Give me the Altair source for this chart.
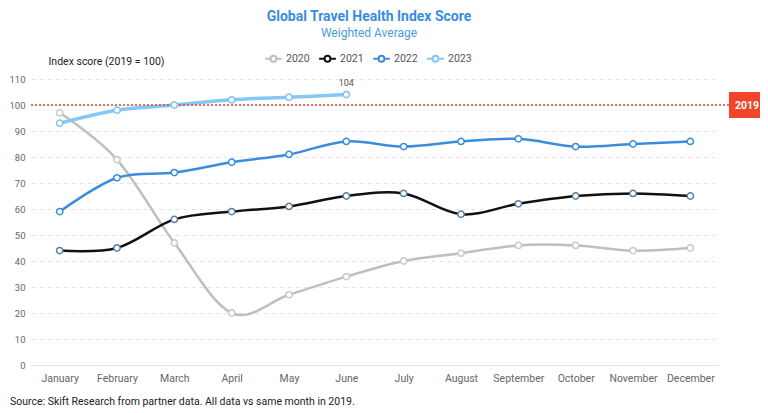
import altair as alt
import pandas as pd

months = ["January", "February", "March", "April", "May", "June", "July",
          "August", "September", "October", "November", "December"]
years = ["2020", "2021", "2022", "2023"]
v2020 = [97, 79, 47, 20, 27, 34, 40, 43, 46, 46, 44, 45]
v2021 = [44, 45, 56, 59, 61, 65, 66, 58, 62, 65, 66, 65]
v2022 = [59, 72, 74, 78, 81, 86, 84, 86, 87, 84, 85, 86]
v2023 = [93, 98, 100, 102, 103, 104]
colors = ["#bfbfbf", "#111111", "#3a8ddc", "#84c8f5"]
baseline_value = 100
baseline_label = "2019"
peak_label = "104"
y_ticks = [0, 10, 20, 30, 40, 50, 60, 70, 80, 90, 100, 110]

rows = []
for yr, vals in zip(years, [v2020, v2021, v2022, v2023]):
    for m, v in zip(months, vals):
        rows.append({"month": m, "year": yr, "value": v})
df = pd.DataFrame(rows)
df["lw"] = df["year"].map({"2020": 2.5, "2021": 2.5, "2022": 2.5, "2023": 3.5})

W, H = 688, 286

yscale = alt.Scale(domain=[0, 110], nice=False)

x = alt.X("month:N", sort=months, scale=alt.Scale(type="point", padding=0.5),
          axis=alt.Axis(title=None, labelAngle=0, ticks=False, domainColor="#e3e3e3",
                        labelColor="#666666", labelFontSize=10.5, labelPadding=8,
                        labelFont="Roboto", grid=False))
y = alt.Y("value:Q", scale=yscale,
          axis=alt.Axis(values=y_ticks, title="Index score (2019 = 100)",
                        titleAngle=0, titleAlign="left", titleBaseline="middle",
                        titleX=17, titleY=-18, titleFontSize=10.5, titleFontWeight="normal",
                        titleColor="#222222", titleFont="Roboto",
                        labelColor="#666666", labelFontSize=9.5, labelFont="Roboto",
                        labelPadding=6, ticks=False, domain=False, labelOverlap=False,
                        gridDash=[4, 4], gridColor="#e4e4e4"))

color = alt.Color("year:N", scale=alt.Scale(domain=years, range=colors),
                  legend=alt.Legend(title=None, orient="none", direction="horizontal",
                                    legendX=233, legendY=-30,
                                    symbolType="M-1,0L-0.35,0M0.35,0L1,0M-0.35,0A0.35,0.35 0 1,1 0.35,0A0.35,0.35 0 1,1 -0.35,0",
                                    symbolSize=280, symbolStrokeWidth=2,
                                    symbolFillColor="white",
                                    labelFontSize=10.5, labelColor="#555555",
                                    labelFont="Roboto", columnPadding=5, labelOffset=3))

base = alt.Chart(df)

lines = base.mark_line(interpolate="cardinal").encode(
    x=x, y=y, color=color,
    strokeWidth=alt.StrokeWidth("lw:Q", scale=None, legend=None),
    order=alt.Order("year:N", sort="ascending"),
)

pts = base.mark_point(filled=False, fill="white", size=40, strokeWidth=1.5, opacity=1).encode(
    x=x, y=y,
    stroke=alt.Stroke("year:N", scale=alt.Scale(domain=years,
                      range=["#c8c8c8", "#5d7f9f", "#3a8ddc", "#7fc2f0"]), legend=None),
)

rule_df = pd.DataFrame({"value": [baseline_value], "label": [baseline_label]})
rule = alt.Chart(rule_df).mark_rule(color="#e8402a", strokeDash=[2, 2], strokeWidth=1.5).encode(
    y=y, x=alt.value(0), x2=alt.value(698))
box = alt.Chart(rule_df).mark_rect(color="#f0442b").encode(
    y=alt.value(13), y2=alt.value(39), x=alt.value(698), x2=alt.value(745))
box_text = alt.Chart(rule_df).mark_text(color="white", fontWeight="bold", fontSize=10.5,
                                        font="Roboto", align="center", baseline="middle").encode(
    text="label:N", x=alt.value(716), y=alt.value(26.5))

peak_df = pd.DataFrame({"month": ["June"], "value": [104], "label": [peak_label]})
peak = alt.Chart(peak_df).mark_text(dy=-12, fontSize=9, color="#555555", font="Roboto").encode(
    x=x, y=y, text="label:N")

src_df = pd.DataFrame({"t": ["Source: Skift Research from partner data. All data vs same month in 2019."]})
src = alt.Chart(src_df).mark_text(align="left", baseline="middle", fontSize=10.5,
                                  color="#222222", font="Roboto").encode(
    text="t:N", x=alt.value(-21), y=alt.value(323))

chart = alt.layer(lines, rule, pts, box, box_text, peak, src).properties(
    width=W, height=H,
    title=alt.TitleParams(text="Global Travel Health Index Score", subtitle="Weighted Average",
                          anchor="middle", color="#3a8ddc", fontSize=14, fontWeight="bold",
                          font="Roboto", subtitleColor="#4a9be2", subtitleFontSize=12,
                          subtitleFont="Roboto", subtitlePadding=4, offset=10, dx=-6),
    autosize=alt.AutoSizeParams(type="none"),
    padding={"left": 23, "top": 71, "right": 41, "bottom": 48},
).resolve_scale(color="independent", stroke="independent").configure_view(stroke=None)

chart.save("out.html", embed_options={"renderer": "svg", "actions": False})
